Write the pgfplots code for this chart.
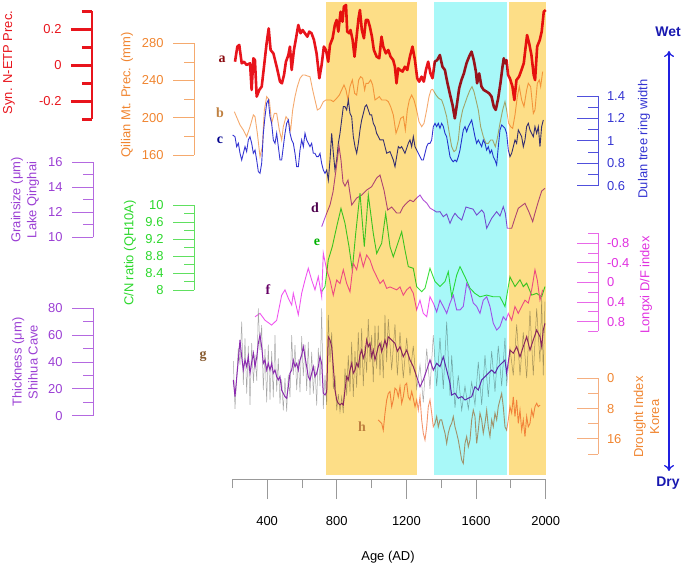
\documentclass[border=0pt]{standalone}
\usepackage{fontspec}
\setmainfont{Liberation Sans}
\newfontfamily\serlbl{Liberation Serif}
\usepackage{pgfplots}
\pgfplotsset{compat=1.18}
\usetikzlibrary{arrows.meta}
\definecolor{cRed}{HTML}{E8141C}
\definecolor{cB}{HTML}{F5AA6E}
\definecolor{cBt}{HTML}{F08530}
\definecolor{cC}{HTML}{3535D2}
\definecolor{cCl}{HTML}{5050DC}
\definecolor{cD}{HTML}{B04FD6}
\definecolor{cDl}{HTML}{B469E0}
\definecolor{cDt}{HTML}{9B3FD4}
\definecolor{cE}{HTML}{3CE03C}
\definecolor{cEl}{HTML}{60E060}
\definecolor{cEt}{HTML}{2CD82C}
\definecolor{cF}{HTML}{F055F0}
\definecolor{cFl}{HTML}{E868E8}
\definecolor{cFt}{HTML}{E030E0}
\definecolor{cG}{HTML}{8C2CB0}
\definecolor{cH}{HTML}{F4966E}
\definecolor{cHl}{HTML}{F5AF80}
\definecolor{cOr}{HTML}{FDDE87}
\definecolor{cCy}{HTML}{A8F8F8}
\definecolor{cWet}{HTML}{1818B0}
\definecolor{cArr}{HTML}{2020E0}
\pgfplotsset{
  dax/.style={scale only axis, width=313.4bp, height=478bp, at={(232.3bp,87bp)},
    anchor=south west, xmin=200, xmax=2000, hide axis, clip=false},
  sc/.style={scale only axis, width=1bp, xmin=0, xmax=1, hide x axis, anchor=south west,
    major tick length=21bp, minor tick length=10bp,
    /pgf/number format/assume math mode=true,
    yticklabel style={font=\fontsize{13}{13}\selectfont},
    y axis line style={line width=0.8bp}, tick style={line width=0.8bp}},
  sL/.style={sc, axis y line*=left, tick align=outside, yticklabel style={xshift=-6bp}},
  sR/.style={sc, axis y line*=right, tick align=inside, yticklabel style={xshift=5.5bp}},
}
\newcommand{\lbl}[1]{\serlbl\bfseries\fontsize{14}{14}\selectfont #1}
\begin{document}
\begin{tikzpicture}
\path[use as bounding box] (0,0) rectangle (685bp,565bp);
% ---------------- data ----------------
% a: Syn N-ETP precipitation
\begin{axis}[dax, ymin=-2.2928, ymax=0.3628]
\addplot[cRed, line width=2.6bp, line join=round] coordinates {
(215.5,0.020)(229,0.104)(240,0.113)(254,0.011)(267,0.020)(282,0.002)(302,0.011)(311,-0.137)(321,0.039)(330,0.029)(340,-0.174)(355,-0.137)(369,-0.118)(382,-0.008)(397,0.122)(409,0.205)(420,0.085)(436,0.066)(455,-0.008)(474,-0.091)(485,-0.100)(497,-0.054)(508,0.020)(522,0.057)(531,0.104)(541,-0.026)(554,0.085)(566,0.150)(579,0.224)(592,0.178)(604,0.196)(617,0.178)(631,0.159)(642,0.187)(655,0.178)(669,0.141)(684,0.066)(700,-0.072)(713,0.002)(726,0.104)(738,0.085)(751,0.020)(761,0.113)(776,0.150)(789,0.224)(799,0.252)(809,0.187)(822,0.298)(833,0.242)(841,0.326)(853,0.335)(860,0.187)(872,0.178)(879,0.196)(891,0.141)(902,0.048)(914,0.159)(925,0.261)(933,0.307)(944,0.196)(956,0.150)(967,0.252)(979,0.252)(990,0.215)(1002,0.159)(1013,0.085)(1029,0.048)(1044,0.039)(1057,0.159)(1067,0.104)(1082,0.066)(1096,0.085)(1109,0.048)(1124,0.029)(1134,-0.008)(1143,-0.100)(1153,-0.017)(1163,-0.026)(1178,-0.035)(1191,-0.008)(1205,-0.026)(1220,0.048)(1235,0.104)(1249,0.029)(1262,-0.072)(1273,-0.091)(1287,-0.063)(1300,-0.091)(1312,-0.026)(1325,0.020)(1338,-0.045)(1350,-0.072)(1363,0.020)(1377,0.029)(1392,0.057)(1407,-0.008)(1421,-0.026)(1434,-0.091)(1449,-0.156)(1465,-0.221)(1478,-0.295)(1491,-0.211)(1503,-0.128)(1516,-0.082)(1530,-0.045)(1545,0.011)(1560,0.048)(1574,0.076)(1587,0.029)(1599,-0.035)(1606,-0.100)(1618,-0.045)(1631,-0.118)(1644,-0.137)(1660,-0.146)(1675,-0.156)(1689,-0.174)(1702,-0.230)(1713,-0.248)(1727,-0.184)(1740,-0.100)(1752,-0.008)(1759,0.039)(1767,0.011)(1775,0.029)(1784,-0.054)(1794,-0.072)(1809,-0.118)(1820,-0.193)(1832,-0.082)(1847,-0.063)(1861,-0.026)(1874,0.011)(1885,0.104)(1893,0.168)(1905,0.122)(1918,0.057)(1931,-0.054)(1939,-0.082)(1951,0.104)(1966,0.141)(1977,0.187)(1989,0.298)(2000,0.307)};
\end{axis}
% b: Qilian Mt. precipitation
\begin{axis}[dax, ymin=-187.0, ymax=326.5]
\addplot[cB, line width=0.9bp] coordinates {
(211.7,206.5)(244.3,192.2)(263.4,186.8)(282.5,179.7)(301.7,190.4)(320.8,203.0)(330.4,201.2)(343.8,183.3)(359.1,158.2)(372.5,168.9)(384.0,208.3)(397.4,222.7)(412.7,219.1)(426.1,194.0)(441.4,204.7)(454.8,204.7)(470.1,186.8)(483.5,176.1)(493.1,190.4)(508.4,201.2)(521.8,197.6)(535.2,186.8)(546.7,208.3)(560.1,222.7)(573.5,233.4)(588.8,242.4)(604.1,245.9)(617.5,245.9)(631.0,244.9)(646.3,244.1)(661.6,229.8)(675.0,219.1)(688.4,208.3)(703.7,210.1)(722.8,217.3)(738.1,219.1)(751.5,219.1)(765.0,219.1)(780.3,217.3)(799.4,220.9)(814.7,224.4)(828.1,229.8)(841.5,235.2)(853.0,229.8)(864.5,219.1)(876.0,233.4)(889.4,240.6)(902.8,226.2)(914.3,224.4)(925.7,240.6)(937.2,244.1)(948.7,242.4)(960.2,229.8)(967.9,237.0)(981.3,237.0)(994.7,240.6)(1006.2,235.2)(1019.6,219.1)(1033.0,220.9)(1044.4,222.7)(1057.8,219.1)(1071.2,219.1)(1082.7,219.1)(1096.1,217.3)(1109.5,211.9)(1124.8,203.0)(1140.2,183.3)(1153.6,190.4)(1167.0,199.4)(1182.3,201.2)(1193.8,186.8)(1205.2,208.3)(1216.7,219.1)(1230.1,224.4)(1243.5,219.1)(1258.8,208.3)(1272.2,195.8)(1287.6,190.4)(1301.0,194.0)(1316.3,208.3)(1329.7,222.7)(1341.1,229.8)(1350.7,230.5)(1369.9,224.4)(1385.2,220.9)(1402.4,219.1)(1415.8,211.9)(1431.1,201.2)(1446.4,183.3)(1459.8,168.9)(1473.2,163.6)(1484.7,165.4)(1498.1,176.1)(1507.7,194.0)(1523.0,208.3)(1536.4,215.5)(1549.8,222.7)(1565.1,229.8)(1576.6,233.4)(1588.1,228.0)(1599.6,219.1)(1613.0,208.3)(1626.4,190.4)(1641.7,179.7)(1657.0,172.5)(1670.4,172.5)(1683.8,176.1)(1695.3,176.1)(1710.6,168.9)(1722.1,177.9)(1737.4,194.0)(1752.7,208.3)(1766.1,217.3)(1775.7,208.3)(1787.2,194.0)(1798.7,190.4)(1810.2,188.6)(1823.6,203.0)(1837.0,222.7)(1848.4,233.4)(1861.8,219.1)(1875.2,211.9)(1890.6,229.8)(1900.1,237.0)(1913.5,233.4)(1928.9,204.7)(1938.4,208.3)(1951.8,237.0)(1963.3,240.6)(1971.0,233.4)(1982.4,249.5)};
\end{axis}
% c: Dulan tree ring width
\begin{axis}[dax, ymin=-2.0071, ymax=2.2562]
\addplot[cC, line width=0.9bp] coordinates {
(202.1,1.052)(215.5,1.037)(225.1,0.948)(234.7,0.978)(244.3,0.889)(253.8,0.829)(263.4,0.889)(273.0,0.948)(282.5,0.904)(292.1,1.008)(301.7,1.037)(311.3,0.978)(320.8,0.889)(330.4,0.918)(340.0,0.829)(349.6,0.725)(359.1,0.710)(368.7,0.799)(378.3,1.067)(387.8,1.216)(397.4,1.335)(407.0,1.364)(416.5,1.216)(426.1,1.156)(435.7,1.008)(445.3,0.978)(454.8,1.067)(464.4,0.948)(474.0,0.829)(483.5,0.829)(493.1,0.948)(502.7,1.067)(512.3,1.156)(521.8,1.186)(531.4,1.067)(541.0,1.008)(550.5,0.978)(560.1,0.889)(569.7,0.770)(579.3,0.770)(588.8,0.918)(598.4,1.008)(608.0,0.948)(617.5,1.067)(627.1,1.008)(636.7,0.978)(646.3,0.948)(655.8,0.978)(665.4,0.889)(675.0,0.889)(684.5,0.859)(694.1,0.859)(703.7,0.889)(713.3,0.799)(722.8,0.740)(732.4,0.710)(742.0,0.740)(751.5,0.651)(761.1,0.829)(770.7,1.067)(780.3,0.889)(789.8,0.740)(799.4,0.829)(809.0,0.978)(818.5,1.067)(828.1,1.186)(837.7,1.305)(847.3,1.305)(856.8,1.275)(866.4,1.364)(876.0,1.245)(885.6,1.216)(895.1,1.037)(904.7,0.948)(914.3,0.889)(923.8,0.978)(933.4,1.097)(943.0,1.186)(952.6,1.245)(962.1,1.305)(971.7,1.320)(981.3,1.275)(990.8,1.231)(1000.4,1.231)(1010.0,1.156)(1019.6,1.127)(1029.1,1.067)(1048.3,1.008)(1067.4,1.008)(1086.6,0.889)(1105.7,0.904)(1124.8,0.829)(1134.4,0.770)(1144.0,0.859)(1153.6,0.948)(1163.1,0.933)(1172.7,0.948)(1182.3,0.918)(1191.9,0.889)(1201.4,0.933)(1211.0,0.978)(1220.6,1.008)(1230.1,0.948)(1239.7,1.037)(1249.3,0.948)(1258.8,0.918)(1268.4,0.889)(1278.0,0.859)(1287.6,0.829)(1297.1,0.829)(1306.7,0.889)(1316.3,0.948)(1325.8,0.978)(1335.4,0.978)(1345.0,1.008)(1354.6,1.127)(1364.1,1.156)(1373.7,1.127)(1383.3,1.156)(1392.8,1.112)(1402.4,1.156)(1412.0,1.127)(1421.6,1.067)(1431.1,1.037)(1440.7,0.948)(1450.3,0.859)(1459.8,0.829)(1469.4,0.814)(1479.0,0.829)(1488.6,0.814)(1498.1,0.859)(1507.7,0.918)(1517.3,1.008)(1526.8,1.097)(1536.4,1.127)(1546.0,1.082)(1555.6,1.127)(1565.1,1.156)(1574.7,1.186)(1584.3,1.112)(1593.8,1.037)(1603.4,0.978)(1613.0,1.008)(1622.6,0.978)(1632.1,0.948)(1641.7,1.008)(1651.3,0.978)(1660.8,0.918)(1670.4,0.948)(1680.0,0.889)(1689.6,0.918)(1699.1,0.859)(1708.7,0.829)(1718.3,0.785)(1727.8,0.948)(1737.4,1.097)(1747.0,1.141)(1756.6,1.127)(1766.1,1.112)(1775.7,1.067)(1785.3,0.918)(1794.8,0.859)(1804.4,0.889)(1814.0,0.948)(1823.6,1.008)(1833.1,0.978)(1842.7,1.097)(1852.3,1.067)(1861.8,1.037)(1871.4,0.948)(1881.0,1.008)(1890.6,1.127)(1900.1,1.156)(1909.7,1.097)(1919.3,1.067)(1928.9,1.037)(1938.4,1.127)(1948.0,1.067)(1957.6,1.127)(1967.1,0.948)(1976.7,1.127)(1986.3,1.186)};
\end{axis}
% d: grain size Lake Qinghai
\begin{axis}[dax, ymin=-9.256, ymax=28.984]
\addplot[cD, line width=0.9bp] coordinates {
(713.4,10.85)(738.1,11.78)(761.1,12.58)(778.3,13.62)(795.6,15.38)(812.8,17.30)(824.2,16.18)(835.7,14.42)(847.2,14.10)(864.4,14.58)(885.7,12.58)(914.4,13.14)(943.1,13.38)(971.8,13.78)(1000.5,14.05)(1029.2,14.74)(1048.2,14.98)(1071.2,13.78)(1092.4,12.18)(1115.4,12.42)(1144.1,11.94)(1163.1,11.94)(1182.0,12.45)(1201.5,12.74)(1220.5,12.98)(1239.5,12.85)(1259.0,13.14)(1278.0,13.38)(1296.9,12.98)(1316.5,12.74)(1335.4,12.34)(1354.4,12.18)(1373.9,12.02)(1392.8,12.05)(1411.8,11.65)(1431.3,11.86)(1450.3,11.12)(1465.8,11.62)(1479.0,11.92)(1496.2,11.62)(1517.5,11.38)(1542.1,12.42)(1565.1,12.32)(1582.3,12.26)(1603.6,11.78)(1632.3,12.18)(1645.5,11.94)(1661.0,10.72)(1689.7,11.52)(1718.4,12.05)(1737.4,11.70)(1756.3,12.45)(1767.8,11.94)(1779.3,10.72)(1804.5,10.72)(1823.5,11.54)(1842.5,12.32)(1880.9,12.72)(1903.9,12.02)(1925.2,11.25)(1938.4,11.94)(1957.4,12.85)(1976.9,13.70)(1995.8,13.92)};
\end{axis}
% e: C/N ratio QH10A
\begin{axis}[dax, ymin=3.5765, ymax=14.8235]
\addplot[cE, line width=0.9bp] coordinates {
(713.4,7.96)(732.4,8.08)(751.4,8.71)(774.3,9.02)(799.6,9.49)(824.2,9.92)(847.2,9.57)(870.2,9.02)(889.2,8.47)(908.7,9.33)(933.4,10.28)(958.1,9.02)(981.1,10.24)(1009.8,9.33)(1029.2,8.86)(1057.9,9.10)(1080.9,9.80)(1105.7,9.02)(1124.6,8.78)(1144.1,9.02)(1172.8,9.37)(1191.8,8.94)(1210.8,8.55)(1239.5,8.51)(1259.0,8.08)(1287.7,7.96)(1306.7,8.04)(1335.4,8.51)(1364.1,8.20)(1392.8,8.08)(1421.5,8.20)(1440.5,8.43)(1460.0,7.84)(1488.7,8.35)(1507.7,8.55)(1536.4,8.31)(1565.1,8.04)(1593.8,7.92)(1622.5,7.84)(1661.0,7.88)(1698.9,7.84)(1737.4,7.84)(1766.1,7.61)(1794.8,8.31)(1823.5,8.08)(1852.3,8.24)(1871.2,8.08)(1890.7,8.16)(1919.4,7.88)(1948.1,7.92)(1976.9,7.84)(1995.8,8.08)};
\end{axis}
% f: Longxi D/F index (reversed)
\begin{axis}[dax, y dir=reverse, ymin=-5.7653, ymax=3.9898]
\addplot[cF, line width=0.9bp] coordinates {
(330.4,0.70)(359.1,0.63)(387.8,0.77)(426.2,0.87)(454.9,0.77)(483.6,0.26)(502.6,0.15)(521.6,0.32)(541.1,0.46)(550.3,0.22)(579.0,0.66)(598.5,0.22)(617.5,-0.05)(636.4,-0.29)(656.0,-0.05)(674.9,0.15)(693.9,-0.12)(713.4,0.29)(722.6,-0.60)(741.9,-0.26)(761.0,-0.05)(780.0,0.26)(799.6,-0.05)(818.5,0.02)(837.5,-0.26)(857.0,0.02)(875.9,0.19)(894.9,-0.39)(914.4,-0.26)(933.4,-0.60)(952.3,-0.32)(971.8,-0.56)(990.8,-0.46)(1009.8,-0.26)(1029.2,-0.12)(1048.2,0.02)(1067.2,-0.05)(1086.7,0.12)(1105.7,0.09)(1124.6,0.12)(1144.1,0.15)(1163.1,0.09)(1182.0,0.26)(1201.5,0.15)(1220.5,0.09)(1239.5,0.22)(1259.0,0.56)(1278.0,0.36)(1296.9,0.63)(1316.5,0.70)(1335.4,0.29)(1354.4,0.42)(1373.9,0.60)(1392.8,0.36)(1411.8,0.49)(1431.3,0.63)(1450.3,0.42)(1469.2,0.26)(1488.7,0.56)(1507.7,0.56)(1526.6,0.49)(1546.1,0.02)(1565.1,0.15)(1584.0,0.42)(1603.6,0.49)(1622.5,0.63)(1641.4,0.36)(1661.0,0.29)(1679.9,0.49)(1698.9,0.83)(1718.4,0.97)(1737.4,0.90)(1756.3,0.70)(1771.9,0.77)(1785.0,0.63)(1804.5,0.77)(1823.5,0.49)(1842.5,0.63)(1862.0,0.49)(1880.9,0.36)(1899.9,0.42)(1919.4,0.15)(1938.4,-0.26)(1951.6,-0.05)(1967.1,0.36)(1982.6,0.15)};
\end{axis}
% g: Shihua Cave layer thickness (raw + smoothed)
\begin{axis}[dax, ymin=-46.41, ymax=309.65]
\addplot[gray!75, line width=0.5bp, opacity=0.9] coordinates {
(205.7,40.6)(215.5,5)(234.5,50.5)(244.2,38)(254.0,70)(263.2,23)(272.9,57.5)(282.7,16.5)(291.9,52)(301.7,8)(311.4,54)(321.1,24.5)(330.4,45.5)(340.7,26)(349.3,80)(359.1,49)(368.8,67.4)(378.0,19)(387.8,49.5)(397.5,10)(406.7,53)(416.5,12)(426.2,48)(435.4,13.6)(445.2,60)(454.9,18)(464.1,42.6)(473.8,9)(483.6,27)(492.8,4)(502.6,28)(512.3,3)(521.6,30.6)(531.3,13.6)(541.1,60)(550.3,30.5)(560.1,52.5)(569.8,19)(579.0,42)(588.8,17.5)(598.5,59.2)(607.7,29.4)(617.5,52.9)(627.2,18.5)(636.4,55)(646.2,15.6)(655.9,47.6)(665.2,16.5)(674.9,37)(684.7,7.6)(693.9,50.5)(703.7,22)(713.4,80)(722.6,5)(732.4,30)(742.1,8)(751.4,75)(761.1,40)(770.9,62)(780.1,20)(789.8,30)(799.6,4)(808.8,16)(818.6,3)(828.3,14)(837.5,2)(847.2,35)(857.0,15)(866.1,45)(875.9,18)(885.6,55)(894.8,14)(904.6,48)(914.3,21)(923.5,62)(933.3,30)(943.0,65)(952.2,22)(962.0,52)(971.7,32)(980.9,72)(990.7,40)(1000.4,60)(1009.6,25)(1019.4,67)(1029.1,35)(1038.3,67)(1048.1,30)(1057.8,56)(1067.1,28)(1076.8,75)(1086.6,40)(1095.8,72)(1115.3,34)(1134.3,68)(1148,30)(1163.1,62)(1182.0,28)(1201.5,58)(1220.5,30)(1239.5,52)(1259.0,20)(1278.0,38)(1296.9,10)(1316.5,50)(1335.4,20)(1354.4,60)(1373.9,22)(1392.8,58)(1411.8,20)(1431.3,70)(1450.3,15)(1460.0,45)(1479.0,6)(1497.9,30)(1517.5,4)(1536.4,22)(1555.4,5)(1574.9,25)(1593.8,8)(1612.8,40)(1632.3,8)(1651.3,45)(1670.2,14)(1689.7,48)(1708.7,18)(1727.6,52)(1747.1,22)(1766.1,58)(1775.9,22)(1794.8,50)(1813.8,30)(1833.3,68)(1852.3,30)(1871.2,62)(1890.7,28)(1909.7,78)(1928.6,30)(1948.1,80)(1967.1,40)(1976.9,88)(1986.0,30)(1995.8,85)};
\addplot[cG, line width=1bp] coordinates {
(205.7,26.6)(215.5,14.2)(234.5,41.5)(244.2,56.4)(254.0,43.9)(263.2,34.0)(272.9,41.5)(282.7,36.5)(291.9,43.9)(301.7,31.6)(311.4,40.0)(321.1,46.5)(330.4,36.5)(340.7,43.9)(349.3,53.9)(359.1,60.1)(368.8,51.4)(378.0,39.0)(387.8,41.5)(397.5,34.0)(406.7,39.0)(416.5,34.0)(426.2,39.0)(435.4,31.6)(445.2,34.0)(454.9,29.1)(464.1,26.6)(473.8,29.1)(483.6,19.1)(492.8,16.7)(502.6,14.2)(512.3,13.0)(521.6,21.6)(531.3,31.6)(541.1,34.0)(550.3,41.5)(560.1,36.5)(569.8,39.0)(579.0,34.0)(588.8,41.5)(598.5,45.2)(607.7,51.4)(617.5,43.9)(627.2,36.5)(636.4,29.1)(646.2,26.6)(655.9,31.6)(665.2,36.5)(674.9,29.1)(684.7,31.6)(693.9,36.5)(703.7,43.9)(713.4,39.0)(722.6,16.7)(732.4,15.4)(742.1,17.7)(751.4,58.8)(761.1,56.4)(770.9,51.4)(780.1,36.5)(789.8,19.1)(799.6,11.7)(808.8,9.2)(818.6,8.0)(828.3,9.2)(837.5,8.0)(847.2,19.1)(857.0,29.1)(866.1,26.6)(875.9,34.0)(885.6,39.0)(894.8,31.6)(904.6,34.0)(914.3,39.0)(923.5,36.5)(933.3,45.2)(943.0,48.9)(952.2,42.8)(962.0,46.5)(971.7,56.4)(980.9,51.4)(990.7,53.9)(1000.4,43.9)(1009.6,48.9)(1019.4,41.5)(1029.1,46.5)(1038.3,51.4)(1048.1,53.9)(1057.8,47.7)(1067.1,51.4)(1076.8,56.4)(1086.6,51.4)(1095.8,58.8)(1115.3,56.4)(1134.3,53.9)(1148,48.0)(1163.1,51.4)(1182.0,43.9)(1201.5,48.9)(1220.5,41.5)(1239.5,36.5)(1259.0,29.1)(1278.0,21.6)(1296.9,26.6)(1316.5,34.0)(1335.4,41.5)(1354.4,34.0)(1373.9,39.0)(1392.8,36.5)(1411.8,43.9)(1431.3,34.0)(1450.3,24.1)(1460.0,15.4)(1479.0,16.7)(1497.9,13.0)(1517.5,14.2)(1536.4,11.7)(1555.4,13.0)(1574.9,14.2)(1593.8,21.6)(1612.8,19.1)(1632.3,26.6)(1651.3,29.1)(1670.2,31.6)(1689.7,34.0)(1708.7,31.6)(1727.6,36.5)(1747.1,39.0)(1766.1,41.5)(1775.9,31.6)(1794.8,48.9)(1813.8,46.5)(1833.3,51.4)(1852.3,43.9)(1871.2,51.4)(1890.7,58.8)(1909.7,48.9)(1928.6,56.4)(1948.1,63.8)(1967.1,58.8)(1976.9,51.4)(1986.0,63.8)(1995.8,68.8)};
\end{axis}
% h: Korea drought index (reversed)
\begin{axis}[dax, y dir=reverse, ymin=-99.95, ymax=26.34]
\addplot[cH, line width=0.9bp] coordinates {
(1038.5,11.0)(1058.1,11.9)(1067.1,13.7)(1077.0,9.2)(1086.8,5.7)(1095.9,4.0)(1105.7,3.5)(1115.4,7.5)(1124.6,5.7)(1134.4,2.6)(1144.1,3.1)(1153.3,4.9)(1163.1,2.2)(1172.8,6.6)(1182.0,4.9)(1191.8,1.8)(1201.5,1.3)(1210.7,4.9)(1220.5,5.7)(1230.3,3.5)(1239.5,5.3)(1249.3,7.5)(1259.0,5.7)(1268.2,8.4)(1278.0,4.9)(1287.7,11.0)(1296.9,14.5)(1306.7,16.3)(1316.5,12.8)(1325.7,7.5)(1335.4,5.7)(1345.2,9.2)(1354.4,12.8)(1364.1,11.9)(1373.9,10.1)(1383.1,12.8)(1392.8,11.0)(1402.6,11.0)(1411.8,12.8)(1421.6,14.5)(1431.3,17.2)(1440.5,14.5)(1450.3,12.8)(1460.0,11.9)(1469.2,10.1)(1479.0,12.8)(1488.7,14.5)(1497.9,16.3)(1507.7,18.9)(1517.5,21.6)(1526.6,22.5)(1536.4,17.2)(1546.1,15.4)(1555.4,18.1)(1565.1,16.3)(1574.9,11.0)(1584.0,8.4)(1593.8,10.1)(1603.6,17.2)(1612.8,13.7)(1622.5,9.2)(1632.3,11.0)(1641.4,14.5)(1651.2,11.9)(1661.0,8.4)(1670.2,12.8)(1679.9,15.4)(1689.7,11.0)(1698.9,12.8)(1708.7,9.2)(1718.4,11.0)(1727.6,7.5)(1737.4,5.7)(1747.1,4.0)(1756.3,7.5)(1766.1,12.8)(1775.9,13.7)(1785.0,11.0)(1794.8,7.5)(1804.6,9.2)(1813.8,4.9)(1823.5,10.1)(1833.3,5.7)(1842.5,11.9)(1852.3,8.4)(1862.0,13.7)(1871.2,11.0)(1881.0,15.4)(1890.7,10.1)(1899.9,12.8)(1909.7,11.9)(1919.4,8.4)(1928.6,10.1)(1938.4,7.5)(1948.1,6.6)(1957.4,7.5)(1967.1,7.1)};
\end{axis}
% ---------------- shaded periods (multiply) ----------------
\begin{scope}[blend mode=multiply]
\begin{axis}[dax, ymin=0, ymax=478, y dir=reverse]
\fill[cOr] (axis cs:740,2) rectangle (axis cs:1260,475);
\fill[cCy] (axis cs:1360,2) rectangle (axis cs:1780,475);
\fill[cOr] (axis cs:1790,2) rectangle (axis cs:2000,475);
\end{axis}
\end{scope}
% ---------------- x axis ----------------
\begin{axis}[scale only axis, width=313.4bp, height=478bp, at={(232.3bp,86bp)}, anchor=south west,
  xmin=200, xmax=2000, ymin=0, ymax=1, axis x line*=bottom, hide y axis,
  xtick={400,800,1200,1600,2000}, xticklabels={400,800,1200,1600,2000},
  minor xtick={200,600,1000,1400,1800},
  tick align=outside, major tick length=20bp, minor tick length=9bp,
  x axis line style={draw=gray!80, line width=0.8bp},
  tick style={draw=gray!80, line width=0.8bp},
  xticklabel style={font=\fontsize{13}{13}\selectfont, text=black, yshift=-14bp}]
\end{axis}
% ---------------- y scales ----------------
\begin{axis}[sL, at={(92bp,445.7bp)}, height=108bp, ymin=-0.3, ymax=0.3,
  ytick={-0.2,0,0.2}, minor ytick={-0.3,-0.1,0.1,0.3},
  y axis line style={draw=cRed, line width=2.6bp}, tick style={draw=cRed, line width=2.6bp},
  yticklabel style={text=cRed}]
\end{axis}
\begin{axis}[sL, at={(194bp,410bp)}, height=111.7bp, ymin=160, ymax=280,
  ytick={160,200,240,280}, minor ytick={180,220,260},
  y axis line style={draw=cB}, tick style={draw=cB}, yticklabel style={text=cBt}]
\end{axis}
\begin{axis}[sL, at={(93bp,327.7bp)}, height=75bp, ymin=10, ymax=16,
  ytick={10,12,14,16}, minor ytick={11,13,15},
  y axis line style={draw=cDl}, tick style={draw=cDl}, yticklabel style={text=cDt}]
\end{axis}
\begin{axis}[sL, at={(194bp,275bp)}, height=85bp, ymin=8, ymax=10,
  ytick={8,8.4,8.8,9.2,9.6,10}, minor ytick={8.2,8.6,9.0,9.4,9.8},
  y axis line style={draw=cEl}, tick style={draw=cEl}, yticklabel style={text=cEt}]
\end{axis}
\begin{axis}[sL, at={(93bp,149.3bp)}, height=107.4bp, ymin=0, ymax=80,
  ytick={0,20,40,60,80}, minor ytick={10,30,50,70},
  y axis line style={draw=cDl}, tick style={draw=cDl}, yticklabel style={text=cDt}]
\end{axis}
\begin{axis}[sR, at={(597bp,379.3bp)}, height=89.7bp, ymin=0.6, ymax=1.4,
  ytick={0.6,0.8,1,1.2,1.4}, minor ytick={0.7,0.9,1.1,1.3},
  y axis line style={draw=cCl}, tick style={draw=cCl}, yticklabel style={text=cC}]
\end{axis}
\begin{axis}[sR, at={(597bp,233.5bp)}, height=98bp, ymin=-1, ymax=1, y dir=reverse,
  ytick={-0.8,-0.4,0,0.4,0.8}, minor ytick={-1,-0.6,-0.2,0.2,0.6,1},
  y axis line style={draw=cFl}, tick style={draw=cFl}, yticklabel style={text=cFt}]
\end{axis}
\begin{axis}[sR, at={(597bp,111bp)}, height=75.7bp, ymin=0, ymax=20, y dir=reverse,
  ytick={0,8,16}, minor ytick={4,12,20},
  y axis line style={draw=cHl}, tick style={draw=cHl}, yticklabel style={text=cBt}]
\end{axis}
% ---------------- texts ----------------
\begin{scope}[every node/.style={font=\fontsize{13}{16}\selectfont, inner sep=0pt}]
\node[rotate=90, text=cRed] at (9bp,502.5bp) {Syn. N-ETP Prec.};
\node[rotate=90, text=cBt] at (127bp,470bp) {Qilian Mt. Prec. (mm)};
\node[rotate=90, text=cDt, align=center] at (25bp,365bp) {Grainsize (μm)\\Lake Qinghai};
\node[rotate=90, text=cEt] at (130bp,312bp) {C/N ratio (QH10A)};
\node[rotate=90, text=cDt, align=center] at (25bp,203bp) {Thickness (μm)\\Shihua Cave};
\node[rotate=90, text=cC] at (644bp,426bp) {Dulan tree ring width};
\node[rotate=90, text=cFt] at (646bp,280bp) {Longxi D/F index};
\node[rotate=90, text=cBt, align=center] at (646.5bp,148bp) {Drought Index\\Korea};
\node[text=black] at (388bp,8bp) {Age (AD)};
\node[text=cWet, font=\bfseries\fontsize{14}{14}\selectfont] at (668bp,533bp) {Wet};
\node[text=cWet, font=\bfseries\fontsize{14}{14}\selectfont] at (668bp,82bp) {Dry};
\end{scope}
\draw[cArr, line width=1.3bp, {To[length=6bp,width=10bp,open]}-{To[length=6bp,width=10bp,open]}] (669bp,94bp) -- (669bp,514bp);
\node[text=cRed!60!black] at (222bp,506bp) {\lbl{a}};
\node[text=brown] at (220bp,452bp) {\lbl{b}};
\node[text=blue!55!black] at (220bp,425bp) {\lbl{c}};
\node[text=violet!60!black] at (315bp,357bp) {\lbl{d}};
\node[text=green!70!black] at (317bp,323bp) {\lbl{e}};
\node[text=violet!80!black] at (268bp,275bp) {\lbl{f}};
\node[text=brown!70!black] at (203bp,209bp) {\lbl{g}};
\node[text=brown] at (362bp,138bp) {\lbl{h}};
\end{tikzpicture}
\end{document}
